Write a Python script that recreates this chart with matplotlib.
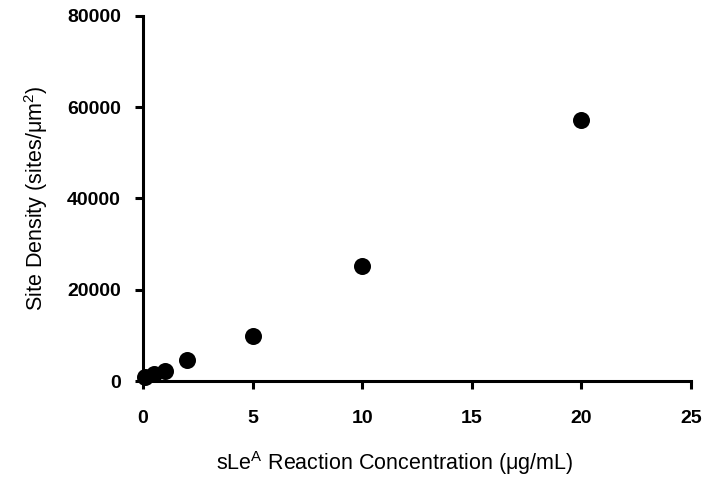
import matplotlib
matplotlib.use("Agg")
import matplotlib.pyplot as plt

# data
conc = [0.1, 0.5, 1, 2, 5, 10, 20]
density = [800, 1600, 2100, 4500, 9800, 25300, 57100]

x_ticks = [0, 5, 10, 15, 20, 25]
y_ticks = [0, 20000, 40000, 60000, 80000]

plt.rcParams["font.family"] = ["Liberation Sans", "DejaVu Sans"]
plt.rcParams["mathtext.fontset"] = "custom"
plt.rcParams["mathtext.rm"] = "Liberation Sans"
plt.rcParams["mathtext.it"] = "Liberation Sans"

fig = plt.figure(figsize=(7.04, 4.83), dpi=100)
fig.patch.set_facecolor("white")
ax = fig.add_axes([143 / 704, 1 - 381 / 483, (691 - 143) / 704, (381 - 16) / 483])

ax.scatter(conc, density, s=150, color="black", zorder=3, clip_on=False, linewidths=0)

ax.set_xlim(0, 25)
ax.set_ylim(0, 80000)
ax.set_xticks(x_ticks)
ax.set_yticks(y_ticks)

for side in ("top", "right"):
    ax.spines[side].set_visible(False)
for side in ("left", "bottom"):
    ax.spines[side].set_linewidth(2.2)
    ax.spines[side].set_capstyle("projecting")
ax.tick_params(direction="out", length=6, width=2.2, colors="black")
ax.tick_params(axis="x", pad=15)
ax.tick_params(axis="y", pad=10)

for lbl in ax.get_xticklabels() + ax.get_yticklabels():
    lbl.set_fontweight("bold")
    lbl.set_fontsize(14)

ax.set_ylabel(r"Site Density (sites/$\mathrm{\mu m}^{2}$)", fontsize=15.5, labelpad=12)
ax.set_xlabel(r"sLe$^{A}$ Reaction Concentration ($\mathrm{\mu g/mL}$)", fontsize=15.5, labelpad=16)
ax.xaxis.label.set_x(0.46)

fig.savefig("out.png", dpi=100, facecolor="white")
